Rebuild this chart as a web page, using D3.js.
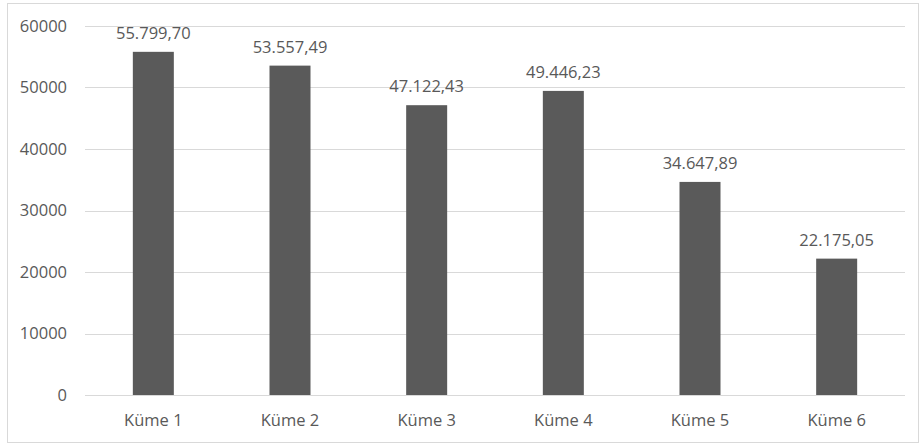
<!DOCTYPE html>
<html lang="tr">
<head>
<meta charset="utf-8">
<title>Küme</title>
<script src="https://d3js.org/d3.v7.min.js"></script>
<style>
  body { margin: 0; background: #fff; }
  text { font-family: "Open Sans", sans-serif; fill: #595959; }
  .tick-label { font-size: 16.5px; }
  .val-label { font-size: 16.5px; }
</style>
</head>
<body>
<script>
// data
var categories = ["Küme 1", "Küme 2", "Küme 3", "Küme 4", "Küme 5", "Küme 6"];
var values = [55799.70, 53557.49, 47122.43, 49446.23, 34647.89, 22175.05];
var valueLabels = ["55.799,70", "53.557,49", "47.122,43", "49.446,23", "34.647,89", "22.175,05"];
var yTicks = [0, 10000, 20000, 30000, 40000, 50000, 60000];

var W = 922, H = 445;
var plotLeft = 85, plotRight = 905, plotTop = 26, plotBottom = 395;

var svg = d3.select("body").append("svg")
  .attr("width", W)
  .attr("height", H);

// chart frame
svg.append("rect")
  .attr("x", 7.5).attr("y", 3.5)
  .attr("width", 911).attr("height", 439)
  .attr("fill", "#fff")
  .attr("stroke", "#d9d9d9");

var x = d3.scaleBand()
  .domain(categories)
  .range([plotLeft, plotRight])
  .paddingInner(0.7)
  .paddingOuter(0.35);

var y = d3.scaleLinear()
  .domain([0, 60000])
  .range([plotBottom, plotTop]);

// gridlines
svg.selectAll(".grid")
  .data(yTicks)
  .enter().append("line")
  .attr("x1", plotLeft).attr("x2", plotRight)
  .attr("y1", function(d) { return Math.round(y(d)) + 0.5; })
  .attr("y2", function(d) { return Math.round(y(d)) + 0.5; })
  .attr("stroke", "#d9d9d9");

// y labels
svg.selectAll(".ylab")
  .data(yTicks)
  .enter().append("text")
  .attr("class", "tick-label")
  .attr("x", 67)
  .attr("y", function(d) { return y(d); })
  .attr("dy", "0.35em")
  .attr("text-anchor", "end")
  .text(function(d) { return d; });

// bars
svg.selectAll(".bar")
  .data(values)
  .enter().append("rect")
  .attr("x", function(d, i) { return x(categories[i]); })
  .attr("width", x.bandwidth())
  .attr("y", function(d) { return y(d); })
  .attr("height", function(d) { return plotBottom - y(d); })
  .attr("fill", "#5a5a5a");

// value labels
svg.selectAll(".val")
  .data(values)
  .enter().append("text")
  .attr("class", "val-label")
  .attr("x", function(d, i) { return x(categories[i]) + x.bandwidth() / 2; })
  .attr("y", function(d) { return y(d) - 13; })
  .attr("text-anchor", "middle")
  .text(function(d, i) { return valueLabels[i]; });

// category labels
svg.selectAll(".cat")
  .data(categories)
  .enter().append("text")
  .attr("class", "tick-label")
  .attr("x", function(d) { return x(d) + x.bandwidth() / 2; })
  .attr("y", 420)
  .attr("dy", "0.35em")
  .attr("text-anchor", "middle")
  .text(function(d) { return d; });
</script>
</body>
</html>
